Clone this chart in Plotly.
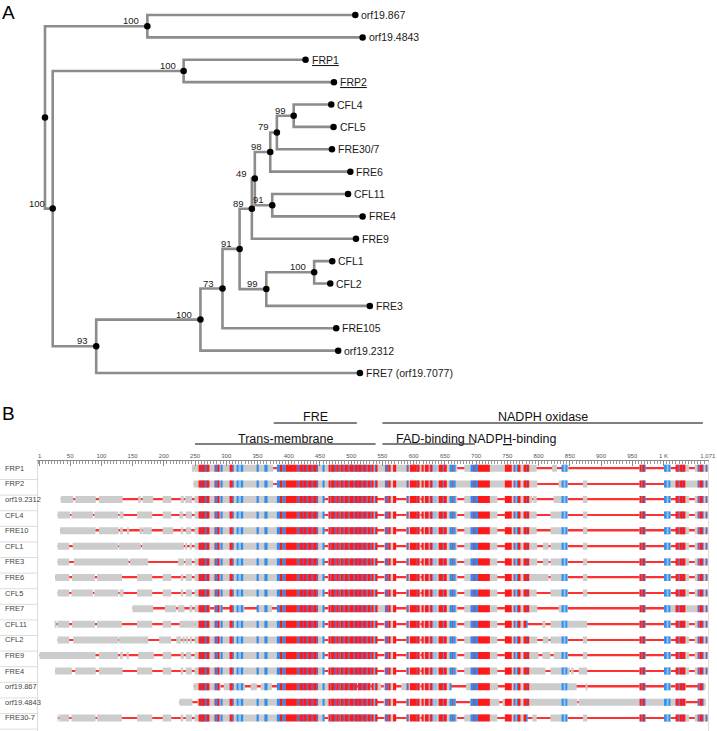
import plotly.graph_objects as go

FONT = "Liberation Sans, Arial, Helvetica, sans-serif"

# ---------------- Panel A: tree ----------------
leaf_names = ["orf19.867", "orf19.4843", "FRP1", "FRP2", "CFL4", "CFL5", "FRE30/7", "FRE6",
              "CFL11", "FRE4", "FRE9", "CFL1", "CFL2", "FRE3", "FRE105", "orf19.2312",
              "FRE7 (orf19.7077)"]
leaf_parent = ["a", "a", "frp", "frp", "c99b", "c99b", "c79", "c98", "c91b", "c91b", "c89",
               "cfl12", "cfl12", "c99", "c73", "c100", "c93"]
leaf_depth = [313.8, 321.2, 263.5, 292.2, 289.5, 291.8, 290.2, 308.8, 306.5, 321.2, 314.5,
              290.5, 288.5, 328.5, 294.5, 296.5, 318.5]
underlined = ["FRP1", "FRP2"]

node_names = ["root", "a", "b", "frp", "c93", "c100", "c73", "c91", "c89", "c99", "cfl12",
              "c49", "c98", "c91b", "c79", "c99b"]
node_parent = [None, "root", "root", "b", "b", "c93", "c100", "c73", "c91", "c91", "c99",
               "c89", "c49", "c49", "c98", "c79"]
node_depth = [0, 103.5, 7.8, 140.2, 51.8, 157.2, 179.5, 196.8, 209.2, 223.8, 272.2,
              212.2, 227.8, 229.8, 234.5, 251.5]
node_support = [None, 100, 100, 100, 93, 100, 73, 91, 89, 99, 100, 49, 98, 91, 79, 99]

# ---------------- Panel B: alignment ----------------
row_names = ["FRP1", "FRP2", "orf19.2312", "CFL4", "FRE10", "CFL1", "FRE3", "FRE6", "CFL5",
             "FRE7", "CFL11", "CFL2", "FRE9", "FRE4", "orf19.867", "orf19.4843", "FRE30-7"]

nterm_blocks = [
    [[245, 249]],
    [[248, 249]],
    [[35, 55], [58, 91], [96, 134], [159, 163], [166, 183], [198, 212], [227, 232], [234, 245]],
    [[30, 50], [52, 86.5], [88.6, 127], [129, 135.6], [157, 181.5], [198, 212], [225, 231], [235, 245]],
    [[34, 90.7], [96, 127.7], [130, 134.5], [141, 144.5], [162, 165], [166, 180.5], [198, 215], [227, 231], [235, 244]],
    [[30, 48.5], [54, 127], [128, 163], [165, 232], [234, 237.5], [241, 245]],
    [[30, 48.5], [56, 143.5], [146, 175], [222.7, 232], [234, 245]],
    [[26, 48.5], [53, 89.7], [93, 133], [157, 181.5], [198, 212], [227, 231], [235, 245]],
    [[30, 48.5], [52, 86.5], [88.6, 127], [129, 135.6], [157, 181.5], [198, 212], [227, 231], [235, 245]],
    [[150, 183], [201.6, 220], [222.7, 233], [241, 245.5]],
    [[26.5, 27.5], [30, 48.5], [53, 89.7], [93, 133], [157, 181.5], [198, 212], [225, 249]],
    [[30, 48.5], [55, 127], [128, 175], [192.5, 212], [220, 228], [230, 233], [236, 238.5], [241, 245]],
    [[1, 90.7], [96, 127], [130, 134.5], [141, 144], [159, 184], [198, 212], [227, 232], [235, 244]],
    [[26, 52.7], [58, 91], [96, 134], [157, 181.5], [198, 212], [227, 231], [235, 245]],
    [[248, 249]],
    [[225, 246]],
    [[30, 31], [32.7, 48.5], [52, 90.7], [93, 133], [157, 181.5], [198, 212], [227, 231], [235, 245]],
]

core_span = [249, 782]
std_gaps = [[457, 463], [541, 553], [572, 588], [611, 613], [670, 681], [734, 746]]
core_gaps = [
    [[375, 381], [670, 681]],
    [[375, 381]],
    std_gaps, std_gaps, std_gaps, std_gaps, std_gaps, std_gaps, std_gaps,
    [[274, 281], [294, 306], [329, 350], [373, 381], [457, 463], [572, 588], [670, 681], [734, 746]],
    std_gaps, std_gaps, std_gaps, std_gaps,
    [[291, 296], [330, 339], [349, 355], [373, 381], [509, 511], [531, 533], [548, 552],
     [572, 580], [611, 613], [660, 684], [735, 746]],
    [[246, 254], [541, 552], [572, 588], [668, 690], [737, 742]],
    std_gaps,
]

std_tail = [[961.5, 971], [1001, 1012], [1020, 1041], [1050, 1070]]
cterm_blocks = [
    [[782, 797], [821.7, 829.6], [837.5, 848]] + std_tail,
    [[782, 798], [832, 847], [871, 878], [961.5, 971], [1001, 1070]],
    [[782, 790], [791.6, 797], [824, 847], [871, 878]] + std_tail,
    [[782, 797], [819, 847], [871, 878]] + std_tail,
    [[782, 797], [819, 847], [871, 878]] + std_tail,
    [[782, 798], [807, 816], [819, 847], [871, 878]] + std_tail,
    [[782, 798], [807, 816], [819, 847], [871, 878]] + std_tail,
    [[782, 816], [819, 847], [871, 878]] + std_tail,
    [[782, 797], [819, 847], [871, 878]] + std_tail,
    [[782, 798], [832, 847], [961.5, 971], [1001, 1070]],
    [[806, 811], [819, 878]] + std_tail,
    [[782, 798], [807, 816], [819, 847], [871, 878]] + std_tail,
    [[782, 800], [806, 819], [824, 847], [871, 878]] + std_tail,
    [[782, 811], [819, 850], [852, 856], [864, 878]] + std_tail,
    [[782, 861], [876.5, 877.5], [961.5, 971], [1001, 1012], [1019, 1036], [1056, 1067]],
    [[782, 862], [864, 1036], [1055, 1068]],
    [[790, 797], [819, 847], [871, 878]] + std_tail,
]

red_cols = [[257, 260], [262, 265], [270, 273], [287, 288.5], [306, 309], [386, 390], [395, 413],
            [418, 422], [425, 428], [431, 436], [439, 444], [464, 467], [470, 473], [476, 480],
            [483, 486], [489, 494], [497, 503], [506, 510], [513, 516], [519, 523], [526, 530],
            [533, 536], [540, 542], [561, 563], [567, 572], [594, 605], [607, 609], [613, 616],
            [618, 624], [628, 630], [640, 646], [648, 653], [703, 722], [746, 757], [767, 771],
            [777, 780], [782, 785], [962, 965], [967, 969], [1020, 1023], [1026, 1030],
            [1032, 1035], [1058, 1062]]
blue_cols = [[260, 262], [268, 270], [285, 287], [291, 293], [317, 320], [323, 327], [350, 352],
             [361, 366], [381, 386], [390, 395], [455, 457], [538, 540], [658, 661], [664, 667],
             [692, 695], [700, 703], [765, 767], [780, 782], [838, 841], [843, 846], [965, 967],
             [969, 971], [1001, 1006], [1008, 1011]]
purple_cols = [[265, 268], [281, 285], [309, 312], [413, 418], [422, 425], [428, 431], [436, 439],
               [444, 447], [467, 470], [473, 476], [480, 483], [486, 489], [494, 497], [503, 506],
               [510, 513], [516, 519], [523, 526], [530, 533], [554, 560], [589, 592], [605, 607],
               [626, 628], [646, 648], [661, 664], [695, 700], [760, 763], [1023, 1026],
               [1030, 1032], [1056, 1058], [1062, 1064], [1068, 1070]]
lightblue_cols = [[320, 323], [631, 637], [841, 843], [1006, 1008]]

ruler_ticks = [1, 50, 100, 150, 200, 250, 300, 350, 400, 450, 500, 550, 600, 650, 700, 750,
               800, 850, 900, 950, 1000, 1071]
ruler_text = ["1", "50", "100", "150", "200", "250", "300", "350", "400", "450", "500", "550",
              "600", "650", "700", "750", "800", "850", "900", "950", "1 K", "1,071"]

domain_labels = ["FRE", "NADPH oxidase", "Trans-membrane", "FAD-binding NADP<u>H</u>-binding"]
domain_start = [376, 550, 250, 550]
domain_end = [509, 1063, 539, 698]
domain_level = [0, 0, 1, 1]

# ---------------- layout constants (pixels) ----------------
W, H = 717, 731
root_px, leaf0_px, leaf_step = 45.5, 15, 22.375
tree_bottom_px = 400
pos1_px, px_per_pos = 40, 0.6316
aln_left_px, aln_right_px, ruler_px = 38, 716, 461
row0_px, row_step = 468.3, 15.6
domain_text_px = [417, 439]
domain_line_px = [423, 444]

fig = go.Figure()

# ---- tree ----
depth = dict(zip(node_names, node_depth))
depth.update(zip(leaf_names, leaf_depth))
parent = dict(zip(node_names, node_parent))
parent.update(zip(leaf_names, leaf_parent))
ypos = {n: i for i, n in enumerate(leaf_names)}
kids = {}
for n, p in parent.items():
    if p is not None:
        kids.setdefault(p, []).append(n)


def node_y(n):
    if n not in ypos:
        cy = [node_y(c) for c in kids[n]]
        ypos[n] = (min(cy) + max(cy)) / 2
    return ypos[n]


for n in node_names:
    node_y(n)

lx, ly = [], []
for n, p in parent.items():
    if p is None:
        continue
    lx += [depth[p], depth[p], depth[n], None]
    ly += [ypos[p], ypos[n], ypos[n], None]

fig.add_trace(go.Scatter(x=lx, y=ly, mode="lines", line=dict(color="#8c8c8c", width=2.6),
                         hoverinfo="skip", xaxis="x", yaxis="y"))
all_nodes = node_names + leaf_names
fig.add_trace(go.Scatter(x=[depth[n] for n in all_nodes], y=[ypos[n] for n in all_nodes],
                         mode="markers", marker=dict(color="black", size=6.5),
                         hoverinfo="skip", xaxis="x", yaxis="y"))

for n in leaf_names:
    txt = f"<u>{n}</u>" if n in underlined else n
    fig.add_annotation(x=depth[n], y=ypos[n], xref="x", yref="y", text=txt, showarrow=False,
                       xanchor="left", yanchor="middle", xshift=4,
                       font=dict(size=10.5, color="#1a1a1a"))
for n, s in zip(node_names, node_support):
    if s is None:
        continue
    fig.add_annotation(x=depth[n], y=ypos[n], xref="x", yref="y", text=str(s), showarrow=False,
                       xanchor="right", yanchor="bottom", xshift=-6, yshift=-2,
                       font=dict(size=9.5, color="#1a1a1a"))


# ---- alignment ----
def subtract(span, gaps):
    blocks = [list(span)]
    for g0, g1 in gaps:
        new = []
        for a, b in blocks:
            if g1 <= a or g0 >= b:
                new.append([a, b])
                continue
            if g0 > a:
                new.append([a, g0])
            if g1 < b:
                new.append([g1, b])
        blocks = new
    return blocks


def clip(cols, blocks):
    out = []
    for s0, s1 in cols:
        for a, b in blocks:
            lo, hi = max(s0, a), min(s1, b)
            if hi > lo:
                out.append((lo, hi))
    return out


row_blocks = [nterm_blocks[i] + subtract(core_span, core_gaps[i]) + cterm_blocks[i]
              for i in range(len(row_names))]


def hbar(segs, color, width):
    ys = [r for r, s in segs for _ in s]
    starts = [a for _, s in segs for a, b in s]
    lens = [b - a for _, s in segs for a, b in s]
    return go.Bar(orientation="h", y=ys, x=lens, base=starts, width=width,
                  marker=dict(color=color, line=dict(width=0)), hoverinfo="skip",
                  xaxis="x2", yaxis="y2")


span_segs = [(i, [(bl[0][0], bl[-1][1])]) for i, bl in enumerate(row_blocks)]
fig.add_trace(hbar(span_segs, "#ff3030", 0.11))
fig.add_trace(hbar([(i, bl) for i, bl in enumerate(row_blocks)], "#cccccc", 0.45))
for cols, color in [(purple_cols, "#8260a8"), (blue_cols, "#2b8ef0"),
                    (lightblue_cols, "#8fc4f2"), (red_cols, "#ff1a1a")]:
    fig.add_trace(hbar([(i, clip(cols, bl)) for i, bl in enumerate(row_blocks)], color, 0.45))

for i, name in enumerate(row_names):
    fig.add_annotation(x=3 / W, y=i, xref="paper", yref="y2", text=name, showarrow=False,
                       xanchor="left", yanchor="middle", font=dict(size=7.5, color="#444"))
    fig.add_shape(type="line", xref="paper", yref="y2", x0=0, x1=aln_left_px / W,
                  y0=i + 0.72, y1=i + 0.72, line=dict(color="#dddddd", width=1))

for lab, s, e, lev in zip(domain_labels, domain_start, domain_end, domain_level):
    yl = 1 - domain_line_px[lev] / H
    fig.add_shape(type="line", xref="x2", yref="paper", x0=s, x1=e, y0=yl, y1=yl,
                  line=dict(color="black", width=1.2))
    left = "<u>" in lab
    fig.add_annotation(x=s + 19 if left else (s + e) / 2, y=1 - domain_text_px[lev] / H,
                       xref="x2", yref="paper", text=lab, showarrow=False,
                       xanchor="left" if left else "center", yanchor="middle",
                       font=dict(size=12.5, color="#111"))

fig.add_annotation(x=0, y=1, xref="paper", yref="paper", text="A", showarrow=False,
                   xanchor="left", yanchor="top", font=dict(size=19, color="black"))
fig.add_annotation(x=0, y=1 - 401 / H, xref="paper", yref="paper", text="B", showarrow=False,
                   xanchor="left", yanchor="top", font=dict(size=19, color="black"))

tree_dom = [1 - tree_bottom_px / H, 1]
fig.update_layout(
    width=W, height=H, margin=dict(l=0, r=0, t=0, b=0),
    paper_bgcolor="white", plot_bgcolor="rgba(0,0,0,0)",
    showlegend=False, barmode="overlay",
    font=dict(family=FONT, color="#111"),
    xaxis=dict(domain=[0, 1], range=[-root_px, W - root_px], visible=False, anchor="y"),
    yaxis=dict(domain=tree_dom,
               range=[(tree_bottom_px - leaf0_px) / leaf_step, -leaf0_px / leaf_step],
               visible=False, anchor="x"),
    xaxis2=dict(domain=[aln_left_px / W, aln_right_px / W],
                range=[1 + (aln_left_px - pos1_px) / px_per_pos,
                       1 + (aln_right_px - pos1_px) / px_per_pos],
                anchor="y2", side="top", showline=True, linecolor="#888", linewidth=1,
                ticks="inside", ticklen=5, tickcolor="#888", tickwidth=1,
                tickvals=ruler_ticks, ticktext=ruler_text, ticklabeloverflow="allow",
                tickfont=dict(size=6, color="#555"), showgrid=False, zeroline=False,
                minor=dict(tickmode="linear", tick0=0, dtick=5, ticks="inside", ticklen=2.5,
                           tickcolor="#999", showgrid=False)),
    yaxis2=dict(domain=[0, 1 - ruler_px / H],
                range=[(H - row0_px) / row_step, (ruler_px - row0_px) / row_step],
                anchor="x2", showline=True, mirror=True, linecolor="#dddddd",
                showticklabels=False, ticks="", showgrid=False, zeroline=False),
)

# the page's default body margin would shift the figure by 8px
fig.write_html("out.html", config={"displayModeBar": False},
               post_script="document.body.style.margin = '0';")
